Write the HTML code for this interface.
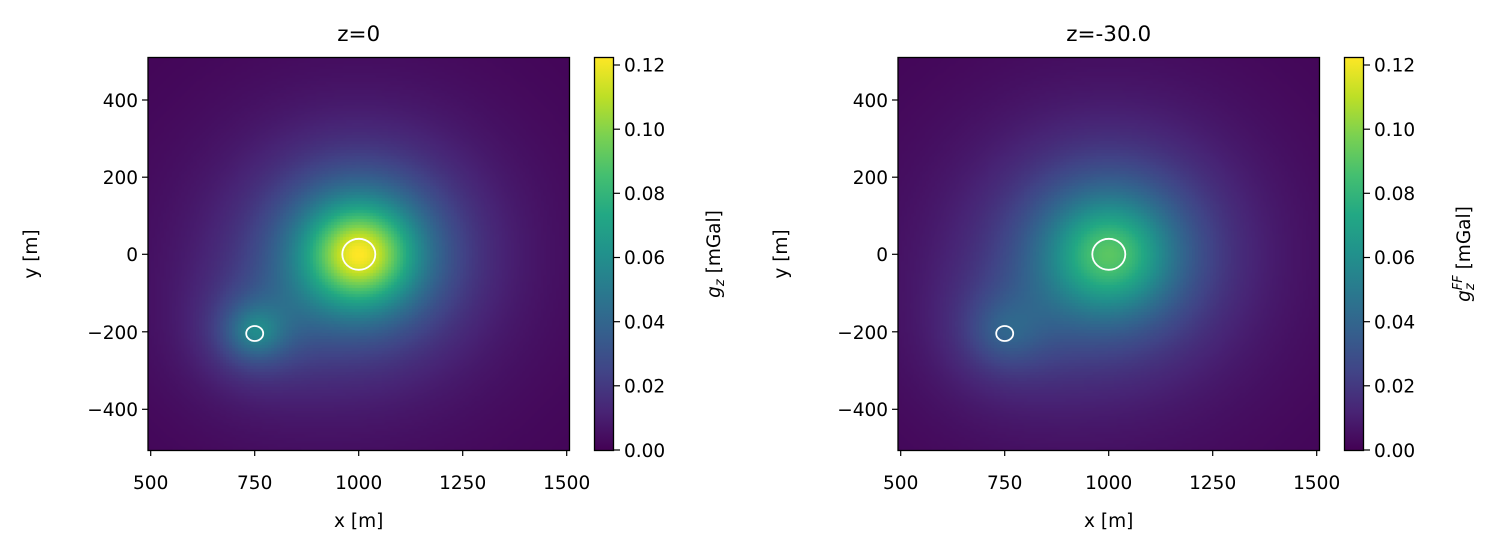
<!DOCTYPE html>
<html><head><meta charset="utf-8"><style>
body{margin:0;background:#fff;width:1509px;height:552px;overflow:hidden;position:relative;font-family:"Liberation Sans","DejaVu Sans",sans-serif}
canvas{position:absolute}
svg{position:absolute;left:0;top:0}
text{font-family:"DejaVu Sans","Liberation Sans",sans-serif;font-size:18.5px;fill:#000}
</style></head><body>
<canvas id="c1" width="422" height="393" style="left:148px;top:57px"></canvas>
<canvas id="c2" width="422" height="393" style="left:898px;top:57px"></canvas>
<svg width="1509" height="552" xmlns="http://www.w3.org/2000/svg">
<defs>
<linearGradient id="vir" x1="0" y1="1" x2="0" y2="0">
<stop offset="0" stop-color="#440154"/><stop offset="0.1" stop-color="#482475"/><stop offset="0.2" stop-color="#414487"/><stop offset="0.3" stop-color="#355f8d"/><stop offset="0.4" stop-color="#2a788e"/><stop offset="0.5" stop-color="#21918c"/><stop offset="0.6" stop-color="#22a884"/><stop offset="0.7" stop-color="#44bf70"/><stop offset="0.8" stop-color="#7ad151"/><stop offset="0.9" stop-color="#bddf26"/><stop offset="1" stop-color="#fde725"/>
</linearGradient>
<g id="ax">
<rect x="148" y="57.5" width="421.5" height="393" fill="none" stroke="#000" stroke-width="1.3"/>
<ellipse cx="358.8" cy="254.3" rx="16.5" ry="15.5" fill="none" stroke="#fff" stroke-width="1.8"/>
<ellipse cx="254.7" cy="333.5" rx="8.5" ry="7.5" fill="none" stroke="#fff" stroke-width="1.8"/>
<g stroke="#000" stroke-width="1.2">
<line x1="150.7" y1="450" x2="150.7" y2="456"/><line x1="254.7" y1="450" x2="254.7" y2="456"/><line x1="358.7" y1="450" x2="358.7" y2="456"/><line x1="462.7" y1="450" x2="462.7" y2="456"/><line x1="566.7" y1="450" x2="566.7" y2="456"/>
<line x1="142" y1="100" x2="148" y2="100"/><line x1="142" y1="177.2" x2="148" y2="177.2"/><line x1="142" y1="254.3" x2="148" y2="254.3"/><line x1="142" y1="331.8" x2="148" y2="331.8"/><line x1="142" y1="409.3" x2="148" y2="409.3"/>
</g>
<g text-anchor="middle">
<text x="150.7" y="489">500</text><text x="254.7" y="489">750</text><text x="358.7" y="489">1000</text><text x="462.7" y="489">1250</text><text x="566.7" y="489">1500</text>
<text x="358.7" y="527">x [m]</text>
</g>
<g text-anchor="end">
<text x="138" y="107">400</text><text x="138" y="184">200</text><text x="138" y="261">0</text><text x="138" y="339">−200</text><text x="138" y="416">−400</text>
</g>
<text transform="translate(37,254) rotate(-90)" text-anchor="middle">y [m]</text>
<rect x="594.5" y="57.5" width="19" height="393" fill="url(#vir)" stroke="#000" stroke-width="1.3"/>
<g stroke="#000" stroke-width="1.2">
<line x1="614" y1="450" x2="620" y2="450"/><line x1="614" y1="385.8" x2="620" y2="385.8"/><line x1="614" y1="321.7" x2="620" y2="321.7"/><line x1="614" y1="257.5" x2="620" y2="257.5"/><line x1="614" y1="193.3" x2="620" y2="193.3"/><line x1="614" y1="129.2" x2="620" y2="129.2"/><line x1="614" y1="65" x2="620" y2="65"/>
</g>
<text x="624" y="457">0.00</text><text x="624" y="392.5">0.02</text><text x="624" y="328.5">0.04</text><text x="624" y="264">0.06</text><text x="624" y="200">0.08</text><text x="624" y="136">0.10</text><text x="624" y="71.5">0.12</text>
</g>
</defs>
<use href="#ax"/>
<use href="#ax" transform="translate(750,0)"/>
<text x="358.7" y="41" text-anchor="middle" style="font-size:21.5px">z=0</text>
<text x="1108.7" y="41" text-anchor="middle" style="font-size:21.5px">z=-30.0</text>
<text transform="translate(720,254) rotate(-90)" text-anchor="middle"><tspan font-style="italic">g</tspan><tspan font-style="italic" font-size="13" dy="4">z</tspan><tspan dy="-4"> [mGal]</tspan></text>
<text transform="translate(1470,254) rotate(-90)" text-anchor="middle"><tspan font-style="italic">g</tspan><tspan font-style="italic" font-size="13" dy="4">z</tspan><tspan font-style="italic" font-size="13" dy="-12" dx="-7">FF</tspan><tspan dy="8"> [mGal]</tspan></text>
</svg>
<script>
var V=[[68,1,84],[72,36,117],[65,68,135],[53,95,141],[42,120,142],[33,145,140],[34,168,132],[68,191,112],[122,209,81],[189,223,38],[253,231,37]];
function vir(t){t=Math.max(0,Math.min(1,t))*10;var i=Math.min(9,Math.floor(t)),f=t-i,a=V[i],b=V[i+1];return [a[0]+(b[0]-a[0])*f,a[1]+(b[1]-a[1])*f,a[2]+(b[2]-a[2])*f];}
function draw(id,dz){
 var c=document.getElementById(id),g=c.getContext('2d');
 var d10=180,d20=95,d1=d10+dz,d2=d20+dz,A1=0.122*d10*d10,A2=0.045*d20*d20,vmax=0.1225,cs=3;
 for(var py=0;py<393;py+=cs){for(var px=0;px<422;px+=cs){
  var x=492+(px+cs/2)/0.416, y=(197.3-(py+cs/2))/0.3865;
  var r1=(x-1000)*(x-1000)+y*y, r2=(x-750)*(x-750)+(y+200)*(y+200);
  var v=A1*d1/Math.pow(r1+d1*d1,1.5)+A2*d2/Math.pow(r2+d2*d2,1.5);
  var col=vir(v/vmax);
  g.fillStyle='rgb('+(col[0]|0)+','+(col[1]|0)+','+(col[2]|0)+')';
  g.fillRect(px,py,cs,cs);
 }}
}
draw('c1',0);draw('c2',30);
</script>
</body></html>
